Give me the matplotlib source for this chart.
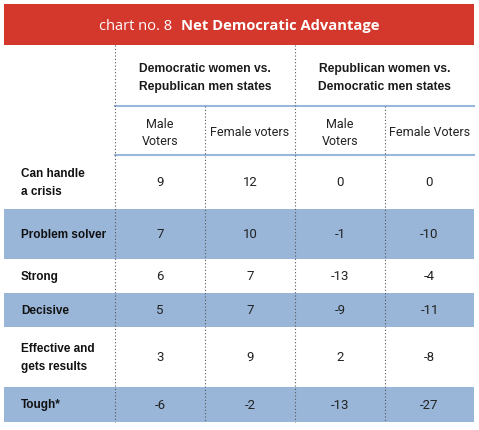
import matplotlib
matplotlib.use("Agg")
import matplotlib.pyplot as plt
from matplotlib.patches import Rectangle

title_prefix = "chart no. 8"
title_main = "Net Democratic Advantage"
groups = ["Democratic women vs.\nRepublican men states", "Republican women vs.\nDemocratic men states"]
subheaders = ["Male\nVoters", "Female voters", "Male\nVoters", "Female Voters"]
rows = ["Can handle\na crisis", "Problem solver", "Strong", "Decisive", "Effective and\ngets results", "Tough*"]
dem_women_male = [9, 7, 6, 5, 3, -6]
dem_women_female = [12, 10, 7, 7, 9, -2]
rep_women_male = [0, -1, -13, -9, 2, -13]
rep_women_female = [0, -10, -4, -11, -8, -27]

# layout (pixels)
W, H = 479, 431
left, right = 4, 474
col_edges = [115, 205, 295, 385, 474]
row_edges = [156, 210, 260, 294, 328, 388, 423]
red = "#d4372c"
blue = "#99b6d9"
bluel = "#9ab8dc"
boldf = ["Liberation Sans", "DejaVu Sans"]
regf = ["Roboto", "DejaVu Sans"]

fig = plt.figure(figsize=(W / 100, H / 100), dpi=100)
ax = fig.add_axes([0, 0, 1, 1])
ax.set_xlim(0, W)
ax.set_ylim(H, 0)
ax.axis("off")

# title bar
ax.add_patch(Rectangle((left, 5), right - left, 41, color=red, lw=0))
ax.text(172, 26, title_prefix, color="white", fontsize=10.5, family=["Open Sans", "DejaVu Sans"],
        fontweight="normal", ha="right", va="center")
ax.text(181, 26, title_main, color="white", fontsize=10.6, family=["Open Sans", "DejaVu Sans"],
        fontweight="bold", ha="left", va="center")

# banded rows
for i in range(len(rows)):
    if i % 2 == 1:
        ax.add_patch(Rectangle((left, row_edges[i]), right - left,
                               row_edges[i + 1] - row_edges[i], color=blue, lw=0))

# blue header lines
ax.plot([col_edges[0], right], [107, 107], color=bluel, lw=1.5)
ax.plot([col_edges[0], right], [156, 156], color=bluel, lw=1.5)

# dotted verticals
for j, x in enumerate(col_edges[:-1]):
    top = 46 if j % 2 == 0 else 107
    ax.plot([x, x], [top, row_edges[-1]], color="#555555", lw=0.8, ls=(0, (1, 2)))

# group headers
for g, txt in enumerate(groups):
    cx = (col_edges[2 * g] + col_edges[2 * g + 2]) / 2
    ax.text(cx, 78, txt, ha="center", va="center", fontsize=8.7, fontweight="bold",
            family=boldf, color="#1a1a1a", linespacing=1.6)

# subheaders
for j, txt in enumerate(subheaders):
    cx = (col_edges[j] + col_edges[j + 1]) / 2
    ax.text(cx, 133, txt, ha="center", va="center", fontsize=9, family=regf,
            color="#222222", linespacing=1.4)

# data
cols = [dem_women_male, dem_women_female, rep_women_male, rep_women_female]
for i, label in enumerate(rows):
    cy = (row_edges[i] + row_edges[i + 1]) / 2
    ax.text(21, cy, label, ha="left", va="center", fontsize=8.5, fontweight="bold",
            family=boldf, color="#111111", linespacing=1.6)
    for j, col in enumerate(cols):
        cx = (col_edges[j] + col_edges[j + 1]) / 2
        ax.text(cx, cy, str(col[i]), ha="center", va="center", fontsize=9.5,
                family=regf, color="#222222")

fig.savefig("out.png", dpi=100)
